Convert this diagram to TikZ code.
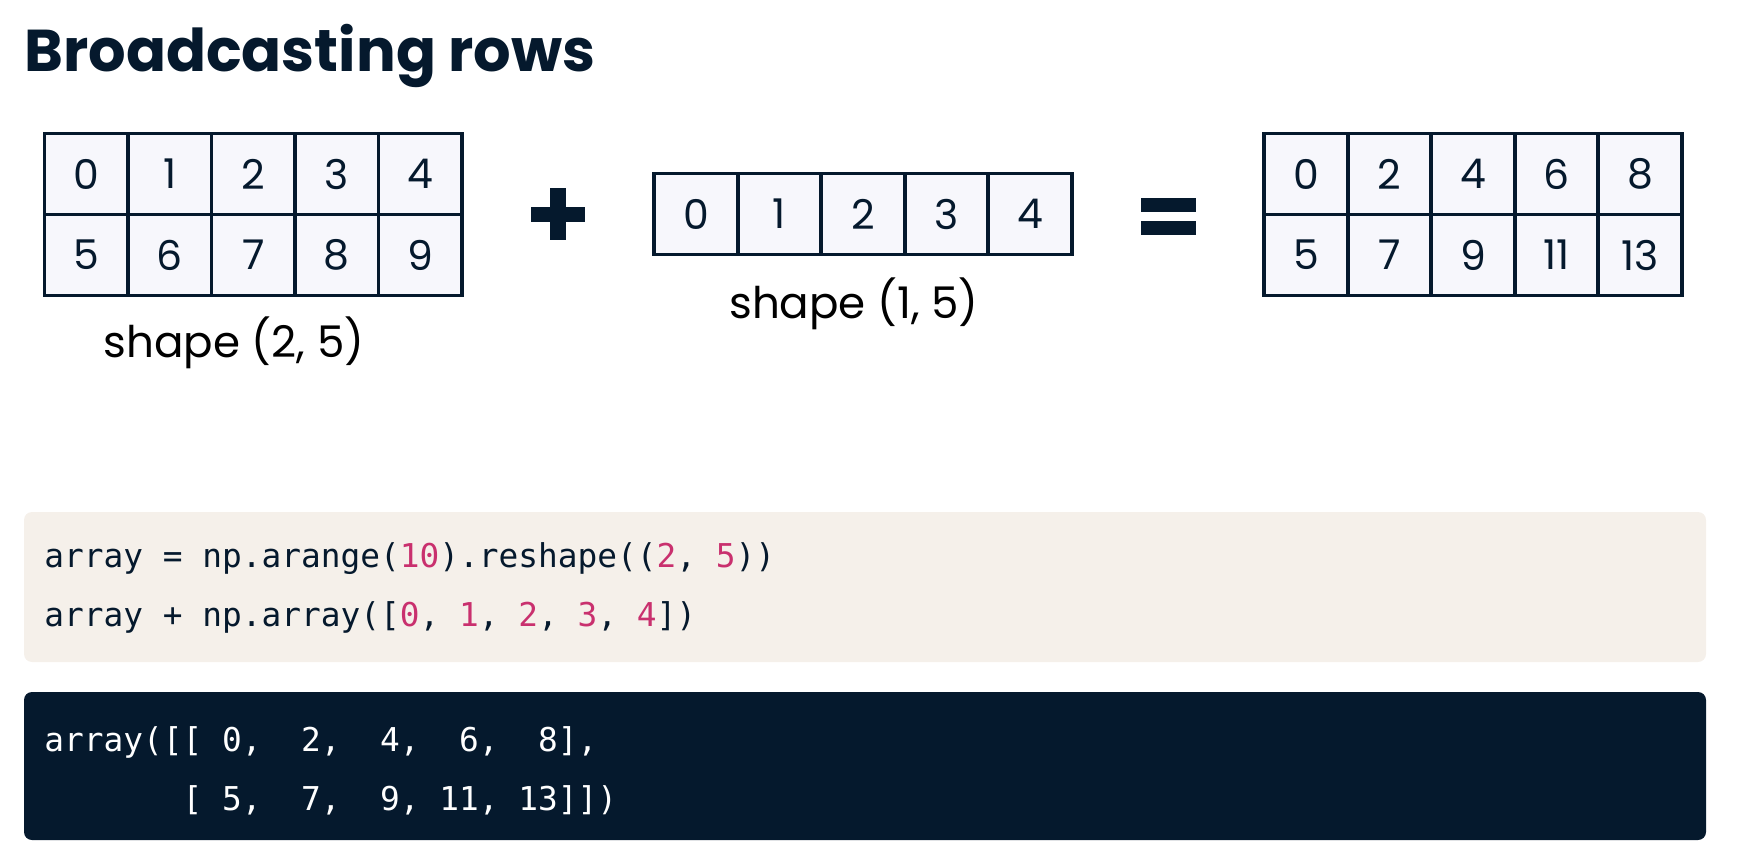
\documentclass[tikz,border=0pt]{standalone}
\usepackage{fontspec}
\setmainfont{Poppins}
\setmonofont{DejaVu Sans Mono}
\definecolor{navy}{HTML}{05192D}
\definecolor{codebg}{HTML}{F5F0EA}
\definecolor{cellbg}{HTML}{F7F7FC}
\definecolor{numpink}{HTML}{C9306E}

\tikzset{
  cell/.style={draw=navy, line width=1.8pt, fill=cellbg, minimum width=41.75pt,
    minimum height=40.5pt, inner sep=0pt, text=navy, font=\fontsize{20.5}{20.5}\selectfont},
  shapelabel/.style={text=black, font=\fontsize{21.8}{21.8}\selectfont},
  codeline/.style={anchor=base west, inner sep=0pt, font=\ttfamily\fontsize{16.4}{16.4}\selectfont},
}
\newcommand{\pk}[1]{\textcolor{numpink}{#1}}

\begin{document}
\begin{tikzpicture}[x=0.5pt, y=-0.5pt]
\useasboundingbox (0,0) rectangle (1745,866);

% title
\node[anchor=base west, inner sep=0pt, text=navy, font=\bfseries\fontsize{29.5}{29.5}\selectfont] (title) at (24,72) {Broadcasting rows};

% left array, shape (2, 5)
\foreach \v [count=\i from 0] in {0,1,...,9}
  \node[cell] (l\i) at ({86.25+83.5*mod(\i,5)},{174+81*div(\i,5)}) {\v};
\node[shapelabel] (lshape) at (234,343) {shape (2, 5)};

% plus
\fill[navy] (531,207) rectangle (585,222);
\fill[navy] (550,188) rectangle (566,240);

% middle array, shape (1, 5)
\foreach \v [count=\i from 0] in {0,...,4}
  \node[cell] (m\i) at ({696+83.5*\i},214) {\v};
\node[shapelabel] (mshape) at (854,304) {shape (1, 5)};

% equals
\fill[navy] (1141,198) rectangle (1196,212);
\fill[navy] (1141,221) rectangle (1196,235);

% right array, result
\foreach \v [count=\i from 0] in {0,2,4,6,8,5,7,9,11,13}
  \node[cell] (r\i) at ({1306+83.5*mod(\i,5)},{174+81*div(\i,5)}) {\v};

% code
\fill[codebg, rounded corners=4pt] (24,512) rectangle (1706,662);
\node[codeline, text=navy] (code1) at (44,567) {array\ =\ np.arange(\pk{10}).reshape((\pk{2},\ \pk{5}))};
\node[codeline, text=navy] (code2) at (44,626) {array\ +\ np.array([\pk{0},\ \pk{1},\ \pk{2},\ \pk{3},\ \pk{4}])};

% output
\fill[navy, rounded corners=4pt] (24,692) rectangle (1706,840);
\node[codeline, text=white] (out1) at (44,751) {array([[\ 0,\ \ 2,\ \ 4,\ \ 6,\ \ 8],};
\node[codeline, text=white] (out2) at (44,810) {\ \ \ \ \ \ \ [\ 5,\ \ 7,\ \ 9,\ 11,\ 13]])};
\end{tikzpicture}
\end{document}
